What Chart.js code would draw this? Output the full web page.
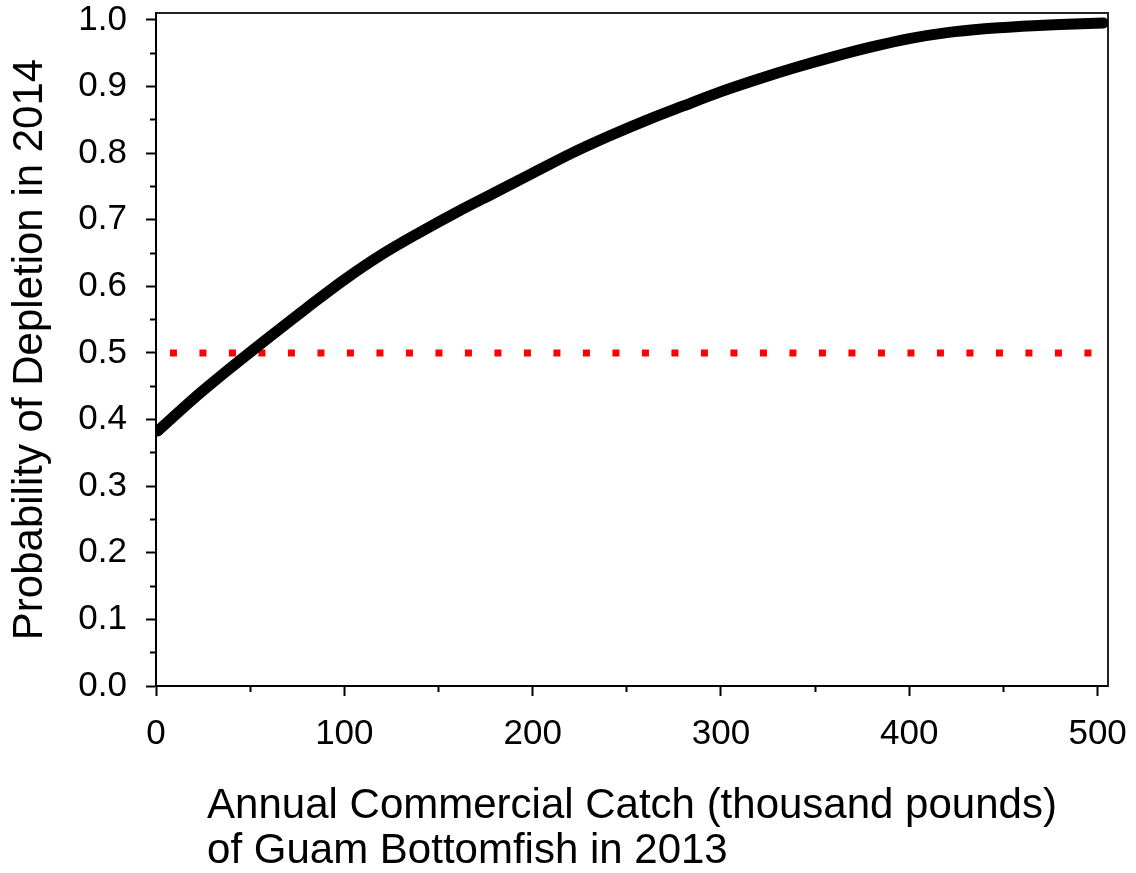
<!DOCTYPE html>
<html>
<head>
<meta charset="utf-8">
<title>Probability of Depletion</title>
<script src="https://cdn.jsdelivr.net/npm/chart.js@4.4.1/dist/chart.umd.min.js"></script>
<style>
  html, body { margin: 0; padding: 0; background: #fff; }
  #wrap { width: 1136px; height: 873px; }
</style>
</head>
<body>
<div id="wrap"><canvas id="chart" width="1136" height="873"></canvas></div>
<script>
// catch in 2013 (thousand pounds) vs probability of depletion in 2014
const catchValues = [1, 20, 40, 60, 80, 100, 120, 140, 160, 180, 200, 220, 240, 260, 280, 300, 320, 340, 360, 380, 400, 420, 440, 460, 480, 503];
const depletionProb = [0.383, 0.4315, 0.4785, 0.5235, 0.5675, 0.610, 0.648, 0.681, 0.712, 0.741, 0.770, 0.799, 0.825, 0.849, 0.871, 0.8925, 0.9115, 0.929, 0.945, 0.9595, 0.972, 0.981, 0.9868, 0.9905, 0.9933, 0.9955];

// 50% reference line
const refLineX = [7.4, 507];
const refLineY = [0.5, 0.5];

const xTicks = [0, 100, 200, 300, 400, 500];
const xMinorTicks = [50, 150, 250, 350, 450];
const yTicks = [0, 0.1, 0.2, 0.3, 0.4, 0.5, 0.6, 0.7, 0.8, 0.9, 1.0];
const yMinorTicks = [0.05, 0.15, 0.25, 0.35, 0.45, 0.55, 0.65, 0.75, 0.85, 0.95];

const xTitleLines = ['Annual Commercial Catch (thousand pounds)', 'of Guam Bottomfish in 2013'];
const yTitle = 'Probability of Depletion in 2014';

const X_MAX = 505.5;
const Y_MAX = 1.0105;
const FONT = '"Liberation Sans", Arial, Helvetica, sans-serif';

const curvePoints = catchValues.map((c, i) => ({ x: c, y: depletionProb[i] }));
const refPoints = refLineX.map((c, i) => ({ x: c, y: refLineY[i] }));

const setTicks = (list) => (scale) => { scale.ticks = list.map(v => ({ value: v })); };

// two-line x title, lines left aligned to each other, block centred under the plot
const xTitlePlugin = {
  id: 'xTitle',
  afterDraw(chart) {
    const { ctx, chartArea } = chart;
    ctx.save();
    ctx.font = '42px ' + FONT;
    ctx.fillStyle = '#000';
    ctx.textAlign = 'left';
    ctx.textBaseline = 'alphabetic';
    const w = Math.max(...xTitleLines.map(t => ctx.measureText(t).width));
    const left = (chartArea.left + chartArea.right) / 2 - w / 2;
    xTitleLines.forEach((t, i) => {
      ctx.fillText(t, left, chartArea.bottom + 132 + i * 45);
    });
    ctx.restore();
  }
};

Chart.defaults.font.family = FONT;
Chart.defaults.color = '#000';

new Chart(document.getElementById('chart'), {
  type: 'line',
  data: {
    datasets: [
      {
        data: curvePoints,
        borderColor: '#000',
        borderWidth: 11,
        borderCapStyle: 'round',
        borderJoinStyle: 'round',
        pointRadius: 0,
        cubicInterpolationMode: 'monotone',
        xAxisID: 'x',
        yAxisID: 'y'
      },
      {
        data: refPoints,
        borderColor: '#ff0000',
        borderWidth: 7,
        borderDash: [7, 22.5],
        borderCapStyle: 'butt',
        pointRadius: 0,
        clip: false,
        xAxisID: 'x',
        yAxisID: 'y'
      }
    ]
  },
  options: {
    responsive: false,
    animation: false,
    devicePixelRatio: 1,
    layout: { padding: { top: 13, right: 28, left: 0, bottom: 0 } },
    plugins: { legend: { display: false }, tooltip: { enabled: false } },
    scales: {
      x: {
        type: 'linear', position: 'bottom', weight: 1,
        min: 0, max: X_MAX,
        afterBuildTicks: setTicks(xTicks),
        afterFit: (s) => { s.height = 187; s.paddingLeft = 0; s.paddingRight = 0; },
        ticks: { font: { size: 35 }, color: '#000', padding: 17, maxRotation: 0, autoSkip: false,
                 callback: (v) => String(v) },
        grid: { drawOnChartArea: false, tickLength: 10, tickWidth: 2, tickColor: '#000' },
        border: { display: true, color: '#000', width: 2 }
      },
      xMinor: {
        type: 'linear', position: 'bottom', weight: 0,
        min: 0, max: X_MAX,
        afterBuildTicks: setTicks(xMinorTicks),
        afterFit: (s) => { s.height = 0; s.paddingLeft = 0; s.paddingRight = 0; },
        ticks: { display: false },
        grid: { drawOnChartArea: false, tickLength: 6, tickWidth: 2, tickColor: '#000' },
        border: { display: false }
      },
      xTop: {
        type: 'linear', position: 'top',
        min: 0, max: X_MAX,
        afterFit: (s) => { s.height = 0; s.paddingLeft = 0; s.paddingRight = 0; },
        ticks: { display: false },
        grid: { drawOnChartArea: false, drawTicks: false },
        border: { display: true, color: '#222', width: 2 }
      },
      y: {
        type: 'linear', position: 'left', weight: 1,
        min: 0, max: Y_MAX,
        afterBuildTicks: setTicks(yTicks),
        afterFit: (s) => { s.width = 156; s.paddingTop = 0; s.paddingBottom = 0; },
        ticks: { font: { size: 35 }, color: '#000', padding: 19, autoSkip: false,
                 callback: (v) => v.toFixed(1) },
        grid: { drawOnChartArea: false, tickLength: 10, tickWidth: 2, tickColor: '#000' },
        border: { display: true, color: '#000', width: 2 },
        title: { display: true, text: yTitle, color: '#000', font: { size: 42 }, padding: { top: 5, bottom: 0 } }
      },
      yMinor: {
        type: 'linear', position: 'left', weight: 0,
        min: 0, max: Y_MAX,
        afterBuildTicks: setTicks(yMinorTicks),
        afterFit: (s) => { s.width = 0; s.paddingTop = 0; s.paddingBottom = 0; },
        ticks: { display: false },
        grid: { drawOnChartArea: false, tickLength: 6, tickWidth: 2, tickColor: '#000' },
        border: { display: false }
      },
      yRight: {
        type: 'linear', position: 'right',
        min: 0, max: Y_MAX,
        afterFit: (s) => { s.width = 0; s.paddingTop = 0; s.paddingBottom = 0; },
        ticks: { display: false },
        grid: { drawOnChartArea: false, drawTicks: false },
        border: { display: true, color: '#222', width: 2 }
      }
    }
  },
  plugins: [xTitlePlugin]
});
</script>
</body>
</html>
